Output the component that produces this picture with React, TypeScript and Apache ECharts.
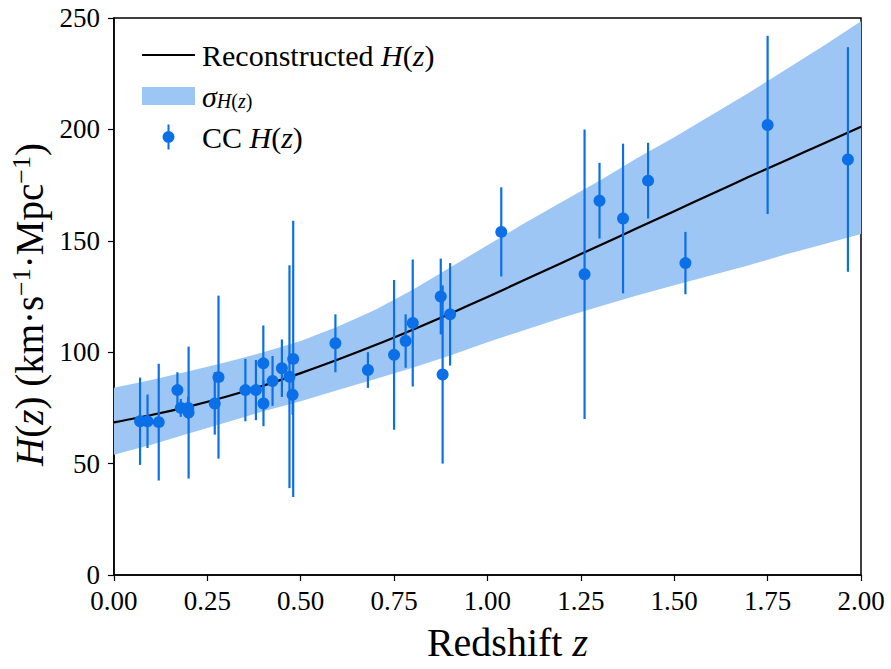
import React, { useEffect, useRef } from 'react';
import * as echarts from 'echarts';

// Reconstructed curve and 1-sigma band
const curveZ = [0.0, 0.1, 0.2, 0.3, 0.4, 0.5, 0.6, 0.7, 0.8, 0.9, 1.0, 1.1, 1.2, 1.3, 1.4, 1.5, 1.6, 1.7, 1.8, 1.9, 2.0];
const curveH = [68.5, 71.8, 75.6, 80.0, 85.0, 90.6, 96.7, 103.2, 110.1, 117.3, 124.8, 132.5, 140.2, 147.9, 155.6, 163.3, 171, 178.7, 186.2, 193.7, 201.2];
const bandUpper = [84, 87.5, 91.5, 95.5, 100, 105, 111.5, 119, 128, 138, 148, 158, 167.5, 177, 187, 196.5, 206.5, 216.5, 227, 237.5, 248.5];
const bandLower = [54, 58.5, 63.5, 68.5, 73.5, 78, 83, 88, 93, 98.5, 104.5, 110, 115.5, 120.5, 125.5, 130, 134.5, 139, 144, 148.5, 153];

// Cosmic chronometer H(z) data
const ccZ = [0.07, 0.09, 0.12, 0.17, 0.179, 0.199, 0.2, 0.27, 0.28, 0.352, 0.3802, 0.4, 0.4004, 0.4247, 0.4497, 0.47, 0.4783, 0.48, 0.593, 0.68, 0.75, 0.781, 0.8, 0.875, 0.88, 0.9, 1.037, 1.26, 1.3, 1.363, 1.43, 1.53, 1.75, 1.965];
const ccH = [69, 69, 68.6, 83, 75, 75, 72.9, 77, 88.8, 83, 83, 95, 77, 87.1, 92.8, 89, 80.9, 97, 104, 92, 98.8, 105, 113.1, 125, 90, 117, 154, 135, 168, 160, 177, 140, 202, 186.5];
const ccErr = [19.6, 12, 26.2, 8, 4, 5, 29.6, 14, 36.6, 14, 13.5, 17, 10.2, 11.2, 12.9, 50, 9, 62, 13, 8, 33.6, 12, 28.5, 17, 40, 23, 20, 65, 17, 33.6, 17, 14, 40, 50.4];

const xTicks = { min: 0, max: 2, interval: 0.25 };
const yTicks = { min: 0, max: 250, interval: 50 };

const FONT = 'Liberation Serif';
const BLUE = '#0b6fe8';
const BAND = '#9dc6f5';

const NAME_LINE = 'Reconstructed H(z)';
const NAME_BAND = 'σH(z)';
const NAME_CC = 'CC H(z)';

export default function App() {
  const ref = useRef<HTMLDivElement>(null);
  useEffect(() => {
    if (!ref.current) return;
    const chart = echarts.init(ref.current, null, { renderer: 'svg' });
    const bandData = curveZ.map((z, i) => [z, bandLower[i], bandUpper[i]]);
    const option: any = {
      animation: false,
      backgroundColor: '#fff',
      textStyle: { fontFamily: FONT, color: '#000' },
      grid: { left: 113, right: 30, top: 18, bottom: 94, show: true, borderColor: '#000', borderWidth: 1.5, backgroundColor: 'transparent' },
      legend: {
        orient: 'vertical',
        left: 137,
        top: 35,
        itemWidth: 53,
        itemHeight: 25,
        itemGap: 11,
        selectedMode: false,
        data: [
          { name: NAME_LINE, icon: 'path://M0,0h53v2.2h-53z' },
          { name: NAME_BAND, icon: 'path://M0,0h53v18h-53z' },
          { name: NAME_CC, icon: 'path://M5,0h2v25h-2zM0,12.5a6,6 0 1,1 12,0a6,6 0 1,1 -12,0z' },
        ],
        formatter: (name: string) => {
          if (name === NAME_LINE) return '{p|Reconstructed }{i|H}{n|(}{i|z}{n|)}';
          if (name === NAME_BAND) return '{pi|σ}{si|H}{sn|(}{si|z}{sn|)}';
          return '{p|CC }{i|H}{n|(}{i|z}{n|)}';
        },
        textStyle: {
          fontFamily: FONT,
          fontSize: 30,
          color: '#000',
          rich: {
            p: { fontFamily: FONT, fontSize: 30, color: '#000', padding: [0, 0, 0, 2], lineHeight: 30 },
            pi: { fontFamily: FONT, fontSize: 30, fontStyle: 'italic', color: '#000', padding: [0, 0, 0, 2], lineHeight: 30 },
            i: { fontFamily: FONT, fontSize: 30, fontStyle: 'italic', color: '#000', lineHeight: 30 },
            n: { fontFamily: FONT, fontSize: 30, color: '#000', lineHeight: 30 },
            si: { fontFamily: FONT, fontSize: 20, fontStyle: 'italic', color: '#000', lineHeight: 30, verticalAlign: 'bottom' },
            sn: { fontFamily: FONT, fontSize: 20, color: '#000', lineHeight: 30, verticalAlign: 'bottom' },
          },
        },
      },
      xAxis: {
        type: 'value',
        min: xTicks.min,
        max: xTicks.max,
        interval: xTicks.interval,
        name: '{n|Redshift }{i|z}',
        nameLocation: 'middle',
        nameGap: 47,
        nameTextStyle: {
          padding: [0, 0, 0, 40],
          rich: {
            n: { fontFamily: FONT, fontSize: 40, color: '#000' },
            i: { fontFamily: FONT, fontSize: 40, fontStyle: 'italic', color: '#000' },
          },
        },
        axisLine: { show: true, onZero: false, lineStyle: { color: '#000', width: 1.5 } },
        axisTick: { show: true, inside: false, length: 6, lineStyle: { color: '#000', width: 1.2 } },
        axisLabel: { color: '#000', fontFamily: FONT, fontSize: 27, lineHeight: 22, margin: 15, formatter: (v: number) => v.toFixed(2) },
        splitLine: { show: false },
      },
      yAxis: {
        type: 'value',
        min: yTicks.min,
        max: yTicks.max,
        interval: yTicks.interval,
        name: '{i|H}{n|(}{i|z}{n|) (km·s}{s|−1}{n|·Mpc}{s|−1}{n|)}',
        nameLocation: 'middle',
        nameGap: 58,
        nameTextStyle: {
          padding: [0, 16, 0, 0],
          rich: {
            n: { fontFamily: FONT, fontSize: 39, color: '#000', lineHeight: 42 },
            i: { fontFamily: FONT, fontSize: 39, fontStyle: 'italic', color: '#000', lineHeight: 42 },
            s: { fontFamily: FONT, fontSize: 26, color: '#000', lineHeight: 42, verticalAlign: 'top' },
          },
        },
        axisLine: { show: true, onZero: false, lineStyle: { color: '#000', width: 1.5 } },
        axisTick: { show: true, inside: false, length: 6, lineStyle: { color: '#000', width: 1.2 } },
        axisLabel: { color: '#000', fontFamily: FONT, fontSize: 27, lineHeight: 22, margin: 14 },
        splitLine: { show: false },
      },
      series: [
        {
          name: NAME_BAND,
          type: 'custom',
          z: 1,
          itemStyle: { color: BAND },
          encode: { x: 0, y: [1, 2] },
          data: bandData,
          renderItem: (params: any, api: any) => {
            if (params.dataIndex !== 0) return null;
            const pts: number[][] = [];
            for (let i = 0; i < curveZ.length; i++) pts.push(api.coord([curveZ[i], bandUpper[i]]));
            for (let i = curveZ.length - 1; i >= 0; i--) pts.push(api.coord([curveZ[i], bandLower[i]]));
            return { type: 'polygon', shape: { points: pts }, style: { fill: BAND, stroke: 'none' } };
          },
        },
        {
          name: NAME_LINE,
          type: 'line',
          z: 2,
          smooth: 0.3,
          symbol: 'none',
          showSymbol: false,
          color: '#000',
          lineStyle: { color: '#000', width: 2.2 },
          data: curveZ.map((z, i) => [z, curveH[i]]),
        },
        {
          name: 'errorbars',
          type: 'custom',
          z: 3,
          itemStyle: { color: BLUE },
          encode: { x: 0, y: 1 },
          data: ccZ.map((z, i) => [z, ccH[i], ccErr[i]]),
          renderItem: (params: any, api: any) => {
            const x = api.value(0);
            const y = api.value(1);
            const e = api.value(2);
            const p1 = api.coord([x, y - e]);
            const p2 = api.coord([x, y + e]);
            return { type: 'line', shape: { x1: p1[0], y1: p1[1], x2: p2[0], y2: p2[1] }, style: { stroke: BLUE, lineWidth: 2.2 } };
          },
        },
        {
          name: NAME_CC,
          type: 'scatter',
          z: 4,
          symbol: 'circle',
          symbolSize: 12,
          itemStyle: { color: BLUE, opacity: 1 },
          data: ccZ.map((z, i) => [z, ccH[i]]),
        },
      ],
    };
    chart.setOption(option);
    return () => chart.dispose();
  }, []);
  return (
    <div
      ref={ref}
      style={{ position: 'absolute', left: 0, top: 0, width: 891, height: 669, background: '#fff' }}
    />
  );
}
